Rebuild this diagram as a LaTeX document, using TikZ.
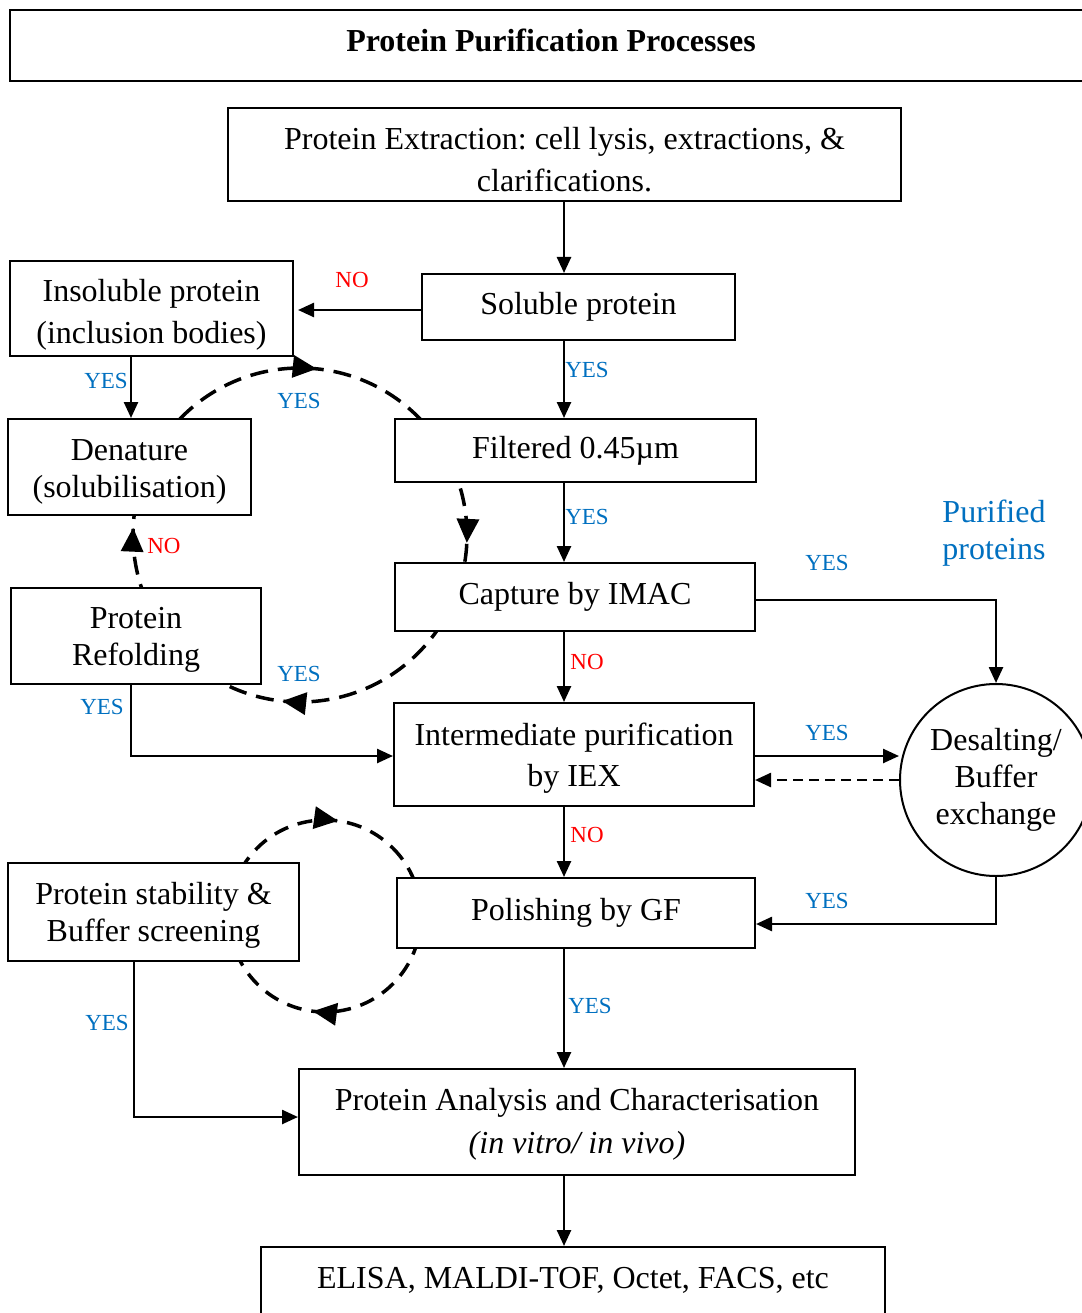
\documentclass[tikz,border=0pt]{standalone}
\usepackage{fontspec}
\setmainfont{Liberation Serif}
\frenchspacing
\usetikzlibrary{arrows.meta,decorations.markings,calc}
\definecolor{yesblue}{RGB}{0,112,192}
\begin{document}
\begin{tikzpicture}[x=1pt,y=-1pt,
  box/.style={draw, line width=2pt, fill=white, align=center, inner sep=0pt, font=\fontsize{32}{37}\selectfont},
  txt/.style={align=center, inner sep=0pt, font=\fontsize{32}{37}\selectfont},
  arr/.style={line width=2.5pt, -{Triangle[length=16pt,width=14pt]}},
  darr/.style={line width=2.5pt, dash pattern=on 10pt off 6pt, -{Triangle[length=16pt,width=14pt]}},
  loopline/.style={line width=3.5pt, dash pattern=on 18pt off 10pt},
  yes/.style={text=yesblue, font=\fontsize{23}{27}\selectfont, inner sep=0pt},
  no/.style={text=red, font=\fontsize{23}{27}\selectfont, inner sep=0pt},
  bigloop/.style={loopline, postaction={decorate}, decoration={markings,
     mark=at position 0.1325 with {\arrow{Triangle[length=24pt,width=22pt]}},
     mark=at position 0.392 with {\arrow{Triangle[length=24pt,width=22pt]}},
     mark=at position 0.632 with {\arrow{Triangle[length=24pt,width=22pt]}},
     mark=at position 0.891 with {\arrow{Triangle[length=24pt,width=22pt]}}}},
  smallloop/.style={loopline, dash pattern=on 15pt off 10pt, postaction={decorate}, decoration={markings,
     mark=at position 0.3953 with {\arrow{Triangle[length=24pt,width=22pt]}},
     mark=at position 0.8967 with {\arrow{Triangle[length=24pt,width=22pt]}}}}
]
\useasboundingbox (0,0) rectangle (1081,1313);
\fill[white] (0,0) rectangle (1081,1313);

% dashed recycling loops (partly hidden behind boxes)
\coordinate (c1) at (300,535);
\coordinate (c2) at (325,916);
\draw[bigloop] ($(c1)+(-45:167)$) arc[start angle=-45, end angle=315, radius=167];
\draw[smallloop] ($(c2)+(-45:96)$) arc[start angle=-45, end angle=315, radius=96];

% boxes
\node[box, line width=2.5pt, minimum width=1082, minimum height=71,
  label={[txt, yshift=5pt, font=\bfseries\fontsize{32}{37}\selectfont]center:{Protein Purification Processes}}] (title) at (551,45.5) {};
\node[box, minimum width=673, minimum height=93,
  label={[txt, yshift=-5pt]center:{Protein Extraction: cell lysis, extractions, \&\\[5pt]clarifications.}}] (ext) at (564.5,154.5) {};
\node[box, minimum width=313, minimum height=66] (sol) at (578.5,307) {Soluble protein};
\node[box, minimum width=283, minimum height=95,
  label={[txt, yshift=-6pt]center:{Insoluble protein\\[5pt](inclusion bodies)}}] (ins) at (151.5,308.5) {};
\node[box, minimum width=243, minimum height=96,
  label={[txt, yshift=-4.5pt]center:{Denature\\(solubilisation)}}] (den) at (129.5,467) {};
\node[box, minimum width=361, minimum height=63] (fil) at (575.5,450.5) {Filtered 0.45µm};
\node[box, minimum width=360, minimum height=68] (cap) at (575,597) {Capture by IMAC};
\node[box, minimum width=250, minimum height=96,
  label={[txt, yshift=-4pt]center:{Protein\\Refolding}}] (ref) at (136,636) {};
\node[box, minimum width=360, minimum height=103,
  label={[txt, yshift=-3.5pt]center:{Intermediate purification\\[4pt]by IEX}}] (int) at (574,754.5) {};
\node[box, circle, minimum size=192] (des) at (996,780) {Desalting/\\Buffer\\exchange};
\node[box, minimum width=358, minimum height=70] (pol) at (576,913) {Polishing by GF};
\node[box, minimum width=291, minimum height=98,
  label={[txt, yshift=-3pt]center:{Protein stability \&\\Buffer screening}}] (stab) at (153.5,912) {};
\node[box, minimum width=556, minimum height=106,
  label={[txt, yshift=-2pt]center:{Protein Analysis and Characterisation\\[6pt]\textit{(in vitro/ in vivo)}}}] (ana) at (577,1122) {};
\node[box, minimum width=624, minimum height=83, text depth=22pt] (eli) at (573,1288.5) {ELISA, MALDI-TOF, Octet, FACS, etc};

\node[txt, text=yesblue] (pur) at (994,533) {Purified\\proteins};

% main spine
\coordinate (sp) at (564,0);
\draw[arr] (ext.south -| sp) -- (sol.north -| sp);
\draw[arr] (sol.south -| sp) -- (fil.north -| sp);
\draw[arr] (fil.south -| sp) -- (cap.north -| sp);
\draw[arr] (cap.south -| sp) -- (int.north -| sp);
\draw[arr] (int.south -| sp) -- (pol.north -| sp);
\draw[arr] (pol.south -| sp) -- (ana.north -| sp);
\draw[arr] (ana.south -| sp) -- (eli.north -| sp);

% side connectors
\draw[arr, shorten >=4pt] ([yshift=-3pt]sol.west) -- ([yshift=-3pt]sol.west -| ins.east);
\draw[arr] ([xshift=1.5pt]den.north |- ins.south) -- ([xshift=1.5pt]den.north);
\draw[arr] ([xshift=-5pt]ref.south) |- ([yshift=-1.5pt]int.west);
\draw[arr] ([yshift=-3pt]cap.east) -| (des.north);
\draw[arr] ([yshift=-1.5pt]int.east) -- ([yshift=-1.5pt]int.east -| des.west);
\draw[darr] (des.west) -- (des.west -| int.east);
\draw[arr] (des.south) |- ([yshift=-11pt]pol.east);
\draw[arr] ([xshift=-19.5pt]stab.south) |- ([yshift=5pt]ana.west);

% labels
\node[no] (l1) at (352,280) {NO};
\node[yes] (l2) at (587,370) {YES};
\node[yes] (l3) at (106,381) {YES};
\node[yes] (l4) at (299,401) {YES};
\node[yes] (l5) at (587,517) {YES};
\node[no] (l6) at (164,546) {NO};
\node[yes] (l7) at (827,563) {YES};
\node[no] (l8) at (587,662) {NO};
\node[yes] (l9) at (299,674) {YES};
\node[yes] (l10) at (102,707) {YES};
\node[yes] (l11) at (827,733) {YES};
\node[no] (l12) at (587,835) {NO};
\node[yes] (l13) at (827,901) {YES};
\node[yes] (l14) at (590,1006) {YES};
\node[yes] (l15) at (107,1023) {YES};
\end{tikzpicture}
\end{document}
